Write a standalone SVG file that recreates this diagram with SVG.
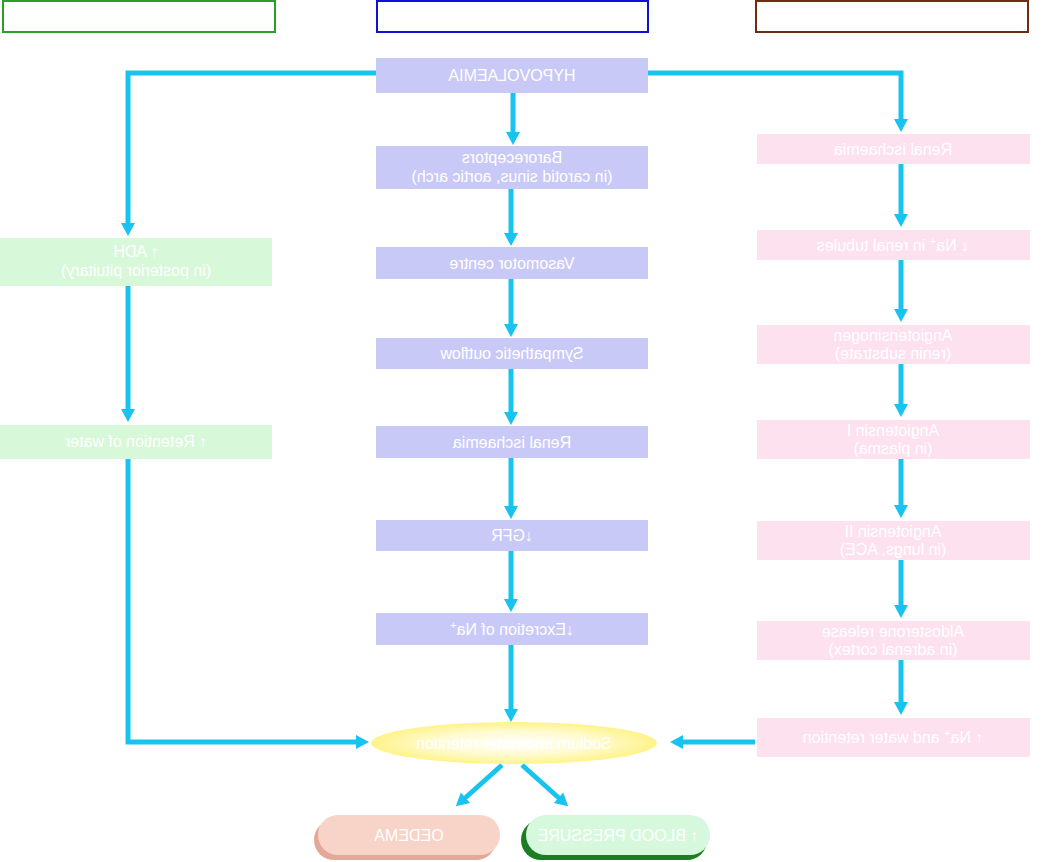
<svg xmlns="http://www.w3.org/2000/svg" width="1053" height="862" viewBox="0 0 1053 862">
<style>
.hdr{fill:#ffffff;stroke-width:2}
.c{fill:#c9c9f7}
.l{fill:#d7f8d9}
.r{fill:#fde1ee}
.t{font-family:"Liberation Sans",Arial,sans-serif;font-size:16px;fill:#ffffff;text-anchor:middle}
.sup{font-size:11px}
.con{stroke:#19c3ef;stroke-width:5;fill:none;marker-end:url(#ah)}
</style>
<defs>
<marker id="ah" markerWidth="16" markerHeight="16" refX="2" refY="8" orient="auto" markerUnits="userSpaceOnUse">
<path d="M0,1 L13,8 L0,15 z" fill="#19c3ef"/>
</marker>
<radialGradient id="eg" cx="0.5" cy="0.5" r="0.5">
<stop offset="0" stop-color="#ffffff"/>
<stop offset="0.55" stop-color="#fffbd2"/>
<stop offset="1" stop-color="#fff38a"/>
</radialGradient>
</defs>
<g id="headers">
<rect id="h-left" class="hdr" x="3" y="1" width="272" height="31" stroke="#2aa02a"/>
<rect id="h-center" class="hdr" x="377" y="1" width="271" height="31" stroke="#1010d8"/>
<rect id="h-right" class="hdr" x="756" y="1" width="272" height="31" stroke="#6b2e10"/>
</g>
<g id="connectors">
<polyline class="con" points="377,73 128,73 128,225"/>
<polyline class="con" points="648,73 901,73 901,121"/>
<line class="con" x1="513" y1="93" x2="513" y2="134"/>
<line class="con" x1="511" y1="189" x2="511" y2="235"/>
<line class="con" x1="511" y1="279" x2="511" y2="326"/>
<line class="con" x1="511" y1="369" x2="511" y2="414"/>
<line class="con" x1="511" y1="458" x2="511" y2="508"/>
<line class="con" x1="511" y1="551" x2="511" y2="601"/>
<line class="con" x1="511" y1="645" x2="511" y2="711"/>
<line class="con" x1="128" y1="286" x2="128" y2="411"/>
<polyline class="con" points="128,459 128,742 358,742"/>
<line class="con" x1="901" y1="164" x2="901" y2="216"/>
<line class="con" x1="901" y1="260" x2="901" y2="311"/>
<line class="con" x1="901" y1="364" x2="901" y2="406"/>
<line class="con" x1="901" y1="459" x2="901" y2="507"/>
<line class="con" x1="901" y1="560" x2="901" y2="607"/>
<line class="con" x1="901" y1="660" x2="901" y2="704"/>
<line class="con" x1="755" y1="742" x2="681" y2="742"/>
<line class="con" x1="502" y1="765" x2="464" y2="799"/>
<line class="con" x1="522" y1="765" x2="560" y2="799"/>
</g>
<g id="n-hypo"><rect class="c" x="376" y="58" width="272" height="35"/><g transform="scale(-1,1)"><text class="t" x="-512" y="81">HYPOVOLAEMIA</text></g></g>
<g id="n-baro"><rect class="c" x="376" y="146" width="272" height="43"/><g transform="scale(-1,1)"><text class="t" x="-512" y="163">Baroreceptors</text><text class="t" x="-512" y="182">(in carotid sinus, aortic arch)</text></g></g>
<g id="n-vaso"><rect class="c" x="376" y="247" width="272" height="32"/><g transform="scale(-1,1)"><text class="t" x="-512" y="269">Vasomotor centre</text></g></g>
<g id="n-symp"><rect class="c" x="376" y="338" width="272" height="31"/><g transform="scale(-1,1)"><text class="t" x="-512" y="359">Sympathetic outflow</text></g></g>
<g id="n-renal-c"><rect class="c" x="376" y="426" width="272" height="32"/><g transform="scale(-1,1)"><text class="t" x="-512" y="448">Renal ischaemia</text></g></g>
<g id="n-gfr"><rect class="c" x="376" y="520" width="272" height="31"/><g transform="scale(-1,1)"><text class="t" x="-512" y="541">↓GFR</text></g></g>
<g id="n-excr"><rect class="c" x="376" y="613" width="272" height="32"/><g transform="scale(-1,1)"><text class="t" x="-512" y="635">↓Excretion of Na<tspan class="sup" dy="-6">+</tspan></text></g></g>
<g id="n-adh"><rect class="l" x="0" y="238" width="272" height="48"/><g transform="scale(-1,1)"><text class="t" x="-136" y="257">↑ ADH</text><text class="t" x="-136" y="276">(in posterior pituitary)</text></g></g>
<g id="n-water"><rect class="l" x="0" y="425" width="272" height="34"/><g transform="scale(-1,1)"><text class="t" x="-136" y="447">↑ Retention of water</text></g></g>
<g id="n-renal-r"><rect class="r" x="757" y="134" width="273" height="30"/><g transform="scale(-1,1)"><text class="t" x="-893" y="155">Renal ischaemia</text></g></g>
<g id="n-na"><rect class="r" x="757" y="230" width="273" height="30"/><g transform="scale(-1,1)"><text class="t" x="-893" y="251">↓ Na<tspan class="sup" dy="-6">+</tspan><tspan dy="6"> in renal tubules</tspan></text></g></g>
<g id="n-angen"><rect class="r" x="757" y="325" width="273" height="39"/><g transform="scale(-1,1)"><text class="t" x="-893" y="341">Angiotensinogen</text><text class="t" x="-893" y="359">(renin substrate)</text></g></g>
<g id="n-ang1"><rect class="r" x="757" y="420" width="273" height="39"/><g transform="scale(-1,1)"><text class="t" x="-893" y="436">Angiotensin I</text><text class="t" x="-893" y="454">(in plasma)</text></g></g>
<g id="n-ang2"><rect class="r" x="757" y="521" width="273" height="39"/><g transform="scale(-1,1)"><text class="t" x="-893" y="537">Angiotensin II</text><text class="t" x="-893" y="555">(in lungs, ACE)</text></g></g>
<g id="n-aldo"><rect class="r" x="757" y="621" width="273" height="39"/><g transform="scale(-1,1)"><text class="t" x="-893" y="637">Aldosterone release</text><text class="t" x="-893" y="655">(in adrenal cortex)</text></g></g>
<g id="n-nawater"><rect class="r" x="757" y="718" width="273" height="39"/><g transform="scale(-1,1)"><text class="t" x="-893" y="743">↑ Na<tspan class="sup" dy="-6">+</tspan><tspan dy="6"> and water retention</tspan></text></g></g>
<g id="n-ellipse"><ellipse cx="514" cy="743" rx="143" ry="21" fill="url(#eg)"/><g transform="scale(-1,1)"><text class="t" x="-514" y="749">Sodium and water retention</text></g></g>
<g id="n-oedema"><rect x="314" y="820" width="182" height="40" rx="20" fill="#e3a898"/><rect x="318" y="815" width="182" height="40" rx="20" fill="#f8d3c8"/><g transform="scale(-1,1)"><text class="t" x="-409" y="841">OEDEMA</text></g></g>
<g id="n-bp"><rect x="521" y="820" width="186" height="40" rx="20" fill="#1c7e24"/><rect x="526" y="815" width="184" height="40" rx="20" fill="#d6f8dc"/><g transform="scale(-1,1)"><text class="t" x="-618" y="841">↑ BLOOD PRESSURE</text></g></g>
</svg>
